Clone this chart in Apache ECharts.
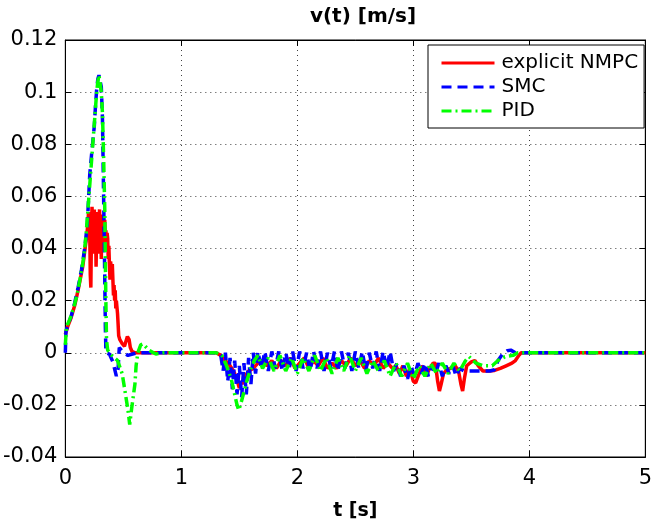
<!DOCTYPE html>
<html><head><meta charset="utf-8">
<script src="https://cdn.jsdelivr.net/npm/echarts@6/dist/echarts.min.js"></script>
<style>html,body{margin:0;padding:0;background:#fff}#c{width:655px;height:526px}</style>
</head><body><div id="c"></div>
<script>
const seriesNames = ['explicit NMPC', 'SMC', 'PID'];
const xTicks = [0, 1, 2, 3, 4, 5];
const yTicks = [-0.04, -0.02, 0, 0.02, 0.04, 0.06, 0.08, 0.1, 0.12];

const nmpc = [[0,0.007],[0.02,0.010],[0.05,0.0135],[0.08,0.018],[0.11,0.024],[0.13,0.0285],[0.15,0.033],[0.17,0.04],[0.185,0.045],[0.195,0.05],[0.2,0.054],
[0.205,0.044],[0.21,0.048],[0.215,0.03],[0.22,0.025],[0.225,0.045],[0.23,0.056],[0.235,0.05],[0.24,0.038],[0.245,0.052],[0.25,0.055],[0.255,0.04],[0.26,0.05],[0.265,0.033],[0.27,0.046],[0.275,0.054],[0.28,0.045],[0.285,0.038],[0.29,0.05],[0.295,0.055],[0.3,0.042],[0.305,0.048],[0.31,0.036],[0.315,0.05],[0.32,0.053],[0.325,0.046],[0.33,0.04],[0.335,0.048],[0.34,0.051],[0.345,0.044],[0.35,0.047],[0.355,0.04],[0.36,0.046],[0.365,0.044],[0.37,0.036],[0.375,0.041],[0.38,0.034],
[0.385,0.028],[0.39,0.035],[0.395,0.033],[0.40,0.03],[0.405,0.034],[0.41,0.028],[0.415,0.022],[0.42,0.026],[0.425,0.02],[0.43,0.024],[0.435,0.017],[0.44,0.02],[0.45,0.015],[0.455,0.011],[0.46,0.0065],[0.47,0.005],[0.49,0.0035],[0.51,0.0025],[0.52,0.004],[0.535,0.0062],[0.55,0.005],[0.56,0.002],[0.575,0.0005],[0.6,0],
[1.3,0],[1.34,-0.001],[1.38,-0.003],[1.42,-0.005],[1.45,-0.007],[1.47,-0.009],[1.49,-0.012],[1.5,-0.0135],[1.515,-0.011],[1.53,-0.012],[1.55,-0.009],[1.58,-0.007],[1.62,-0.006],[1.66,-0.004],[1.7,-0.003],
[1.74,-0.005],[1.78,-0.003],[1.82,-0.006],[1.86,-0.003],[1.9,-0.005],[1.94,-0.002],[1.98,-0.006],[2.02,-0.004],[2.06,-0.002],[2.1,-0.006],[2.14,-0.003],[2.18,-0.005],[2.22,-0.002],[2.26,-0.006],[2.3,-0.004],[2.34,-0.006],[2.38,-0.003],[2.42,-0.005],[2.46,-0.002],[2.5,-0.005],[2.54,-0.003],[2.58,-0.006],[2.62,-0.003],[2.66,-0.005],[2.7,-0.002],[2.74,-0.006],[2.78,-0.004],[2.82,-0.006],
[2.85,-0.005],[2.88,-0.008],[2.91,-0.005],[2.94,-0.009],[2.97,-0.006],[3.0,-0.011],[3.02,-0.0116],[3.05,-0.008],[3.08,-0.005],[3.11,-0.009],[3.14,-0.006],[3.17,-0.004],[3.19,-0.004],[3.21,-0.011],[3.225,-0.0147],[3.24,-0.012],[3.26,-0.008],[3.29,-0.0065],[3.32,-0.006],[3.36,-0.005],[3.39,-0.007],[3.41,-0.012],[3.425,-0.0147],[3.44,-0.01],[3.46,-0.005],[3.5,-0.0035],[3.53,-0.003],[3.56,-0.005],[3.6,-0.007],[3.65,-0.007],[3.7,-0.0068],[3.75,-0.006],[3.8,-0.005],[3.85,-0.004],[3.88,-0.003],[3.91,-0.001],[3.93,0],[5,0]];

const smc = [[0,0],[0.005,0.008],[0.02,0.0105],[0.05,0.014],[0.08,0.019],[0.11,0.025],[0.14,0.032],[0.17,0.041],[0.19,0.05],[0.2,0.0586],[0.21,0.068],[0.23,0.078],[0.25,0.087],[0.26,0.0947],[0.27,0.101],[0.28,0.105],[0.29,0.1065],[0.3,0.106],[0.31,0.102],[0.32,0.09],[0.325,0.075],[0.33,0.06],[0.335,0.045],[0.34,0.028],[0.345,0.01],[0.35,0],[0.38,-0.0005],[0.41,-0.0035],[0.44,-0.009],[0.455,-0.006],[0.465,0.002],[0.475,0.0025],[0.5,0],[0.54,-0.001],[0.58,-0.0005],[0.62,0],
[1.3,0],[1.34,-0.001],[1.36,-0.007],[1.38,0],[1.4,-0.011],[1.42,-0.002],[1.44,-0.014],[1.46,-0.003],[1.48,-0.016],[1.5,-0.005],[1.52,-0.017],[1.54,-0.004],[1.56,-0.016],[1.58,-0.002],[1.6,-0.012],[1.62,0],[1.64,-0.008],[1.66,0.0005],[1.69,-0.006],
[1.72,0.0005],[1.75,-0.007],[1.78,0.0005],[1.81,-0.006],[1.84,0.0005],[1.87,-0.007],[1.9,0],[1.93,-0.006],[1.96,0.0005],[1.99,-0.007],[2.02,0.0005],[2.05,-0.006],[2.08,0],[2.11,-0.007],[2.14,0.0005],[2.17,-0.006],[2.2,0.0005],[2.23,-0.007],[2.26,0],[2.29,-0.006],[2.32,0.0005],[2.35,-0.007],[2.38,0.0005],[2.41,-0.006],[2.44,0],[2.47,-0.007],[2.5,0.0005],[2.53,-0.006],[2.56,0.0005],[2.59,-0.007],[2.62,0],[2.65,-0.006],[2.68,0.0005],[2.71,-0.007],[2.74,0.0005],[2.77,-0.006],[2.8,0.0005],[2.83,-0.007],
[2.86,-0.004],[2.89,-0.009],[2.92,-0.005],[2.95,-0.01],[2.98,-0.005],[3.01,-0.009],[3.04,-0.004],[3.07,-0.008],[3.1,-0.004],[3.13,-0.009],[3.16,-0.005],[3.19,-0.008],[3.22,-0.004],[3.25,-0.009],[3.28,-0.005],[3.31,-0.008],[3.34,-0.005],[3.37,-0.009],[3.4,-0.006],[3.44,-0.007],[3.48,-0.007],[3.53,-0.007],[3.6,-0.007],[3.66,-0.007],[3.7,-0.0065],[3.73,-0.003],[3.77,-0.0005],[3.81,0.0008],[3.84,0.001],[3.88,0],[5,0]];

const pid = [[0,0.003],[0.01,0.01],[0.04,0.013],[0.07,0.017],[0.1,0.022],[0.13,0.029],[0.16,0.037],[0.18,0.046],[0.2,0.058],[0.22,0.07],[0.24,0.082],[0.26,0.094],[0.27,0.1],[0.28,0.104],[0.29,0.1065],[0.3,0.106],[0.31,0.1],[0.32,0.092],[0.33,0.075],[0.34,0.055],[0.345,0.035],[0.35,0.018],[0.355,0.005],[0.365,0.001],[0.4,-0.001],[0.45,-0.003],[0.49,-0.008],[0.51,-0.0135],[0.54,-0.022],[0.555,-0.0275],[0.57,-0.022],[0.585,-0.017],[0.6,-0.012],[0.61,-0.005],[0.625,0],[0.65,0.003],[0.67,0.0034],[0.72,0.001],[0.78,-0.0005],[0.85,0],
[1.3,0],[1.35,-0.001],[1.39,-0.005],[1.43,-0.01],[1.46,-0.016],[1.48,-0.02],[1.495,-0.022],[1.51,-0.02],[1.54,-0.015],[1.57,-0.01],[1.6,-0.006],[1.63,-0.003],[1.66,-0.001],
[1.7,-0.006],[1.75,-0.002],[1.8,-0.007],[1.85,-0.001],[1.9,-0.007],[1.95,-0.002],[2.0,-0.008],[2.05,-0.002],[2.1,-0.007],[2.15,-0.001],[2.2,-0.007],[2.25,-0.002],[2.3,-0.008],[2.35,-0.002],[2.4,-0.007],[2.45,-0.001],[2.5,-0.007],[2.55,-0.002],[2.6,-0.008],[2.65,-0.003],[2.7,-0.007],[2.75,-0.003],[2.8,-0.009],[2.85,-0.004],
[2.9,-0.009],[2.95,-0.004],[3.0,-0.01],[3.05,-0.005],[3.1,-0.009],[3.15,-0.004],[3.2,-0.008],[3.25,-0.004],[3.3,-0.008],[3.35,-0.004],[3.4,-0.007],[3.45,-0.003],[3.48,-0.0015],[3.54,-0.004],[3.6,-0.005],[3.68,-0.005],[3.73,-0.003],[3.79,-0.0015],[3.86,-0.001],[3.9,0],[5,0]];

const FONT = 'DejaVu Sans, Liberation Sans, Arial, sans-serif';
function fmtY(v) {
  const r = Math.round(v * 100) / 100;
  return String(r);
}
const chart = echarts.init(document.getElementById('c'), null, {renderer: 'canvas'});
const gridLine = {show: true, lineStyle: {color: '#000', type: [1, 4], width: 1, opacity: 0.75}};
const axisLine = {show: true, onZero: false, lineStyle: {color: '#000', width: 1}};
const tick = {show: true, inside: true, length: 6, lineStyle: {color: '#000'}};
chart.setOption({
  animation: false,
  backgroundColor: '#fff',
  textStyle: {fontFamily: FONT, color: '#000'},
  title: {text: 'v(t) [m/s]', left: 358, top: 2, textAlign: 'center',
    textStyle: {fontFamily: FONT, fontSize: 20, fontWeight: 'bold', color: '#000'}},
  grid: {left: 65, right: 3, top: 40, bottom: 60, show: true, borderColor: '#000', borderWidth: 1, containLabel: false},
  legend: {
    orient: 'vertical', left: 428, top: 45,
    data: seriesNames,
    backgroundColor: '#fff', borderColor: '#000', borderWidth: 1,
    padding: [8, 6, 7, 12], itemGap: 4, itemWidth: 53, itemHeight: 14,
    itemStyle: {opacity: 0, borderWidth: 0},
    lineStyle: {width: 3},
    textStyle: {fontFamily: FONT, fontSize: 20, color: '#000', lineHeight: 20, padding: [0,0,0,2]}
  },
  xAxis: [{
    type: 'value', min: xTicks[0], max: xTicks[xTicks.length - 1], interval: 1,
    name: 't [s]', nameLocation: 'middle', nameGap: 45,
    nameTextStyle: {fontFamily: FONT, fontSize: 19, fontWeight: 'bold', color: '#000'},
    axisLine: axisLine, axisTick: tick, splitLine: gridLine,
    axisLabel: {fontFamily: FONT, fontSize: 21, color: '#000', margin: 11}
  }, {
    type: 'value', position: 'top', min: 0, max: 5, interval: 1,
    axisLine: axisLine, axisTick: tick, splitLine: {show: false}, axisLabel: {show: false}
  }],
  yAxis: [{
    type: 'value', min: yTicks[0], max: yTicks[yTicks.length - 1], interval: 0.02,
    axisLine: axisLine, axisTick: tick, splitLine: gridLine,
    axisLabel: {fontFamily: FONT, fontSize: 21, color: '#000', margin: 8, formatter: fmtY}
  }, {
    type: 'value', position: 'right', min: -0.04, max: 0.12, interval: 0.02,
    axisLine: axisLine, axisTick: tick, splitLine: {show: false}, axisLabel: {show: false}
  }],
  series: [
    {name: seriesNames[0], type: 'line', data: nmpc, showSymbol: false, symbol: 'none',
      lineStyle: {color: '#ff0000', width: 3.5, type: 'solid'}, itemStyle: {color: '#ff0000'}, z: 2},
    {name: seriesNames[1], type: 'line', data: smc, showSymbol: false, symbol: 'none',
      lineStyle: {color: '#0000ff', width: 3.5, type: [10, 6]}, itemStyle: {color: '#0000ff'}, z: 3},
    {name: seriesNames[2], type: 'line', data: pid, showSymbol: false, symbol: 'none',
      lineStyle: {color: '#00ff00', width: 3.5, type: [10, 4, 2, 4]}, itemStyle: {color: '#00ff00'}, z: 4}
  ]
});
</script></body></html>
